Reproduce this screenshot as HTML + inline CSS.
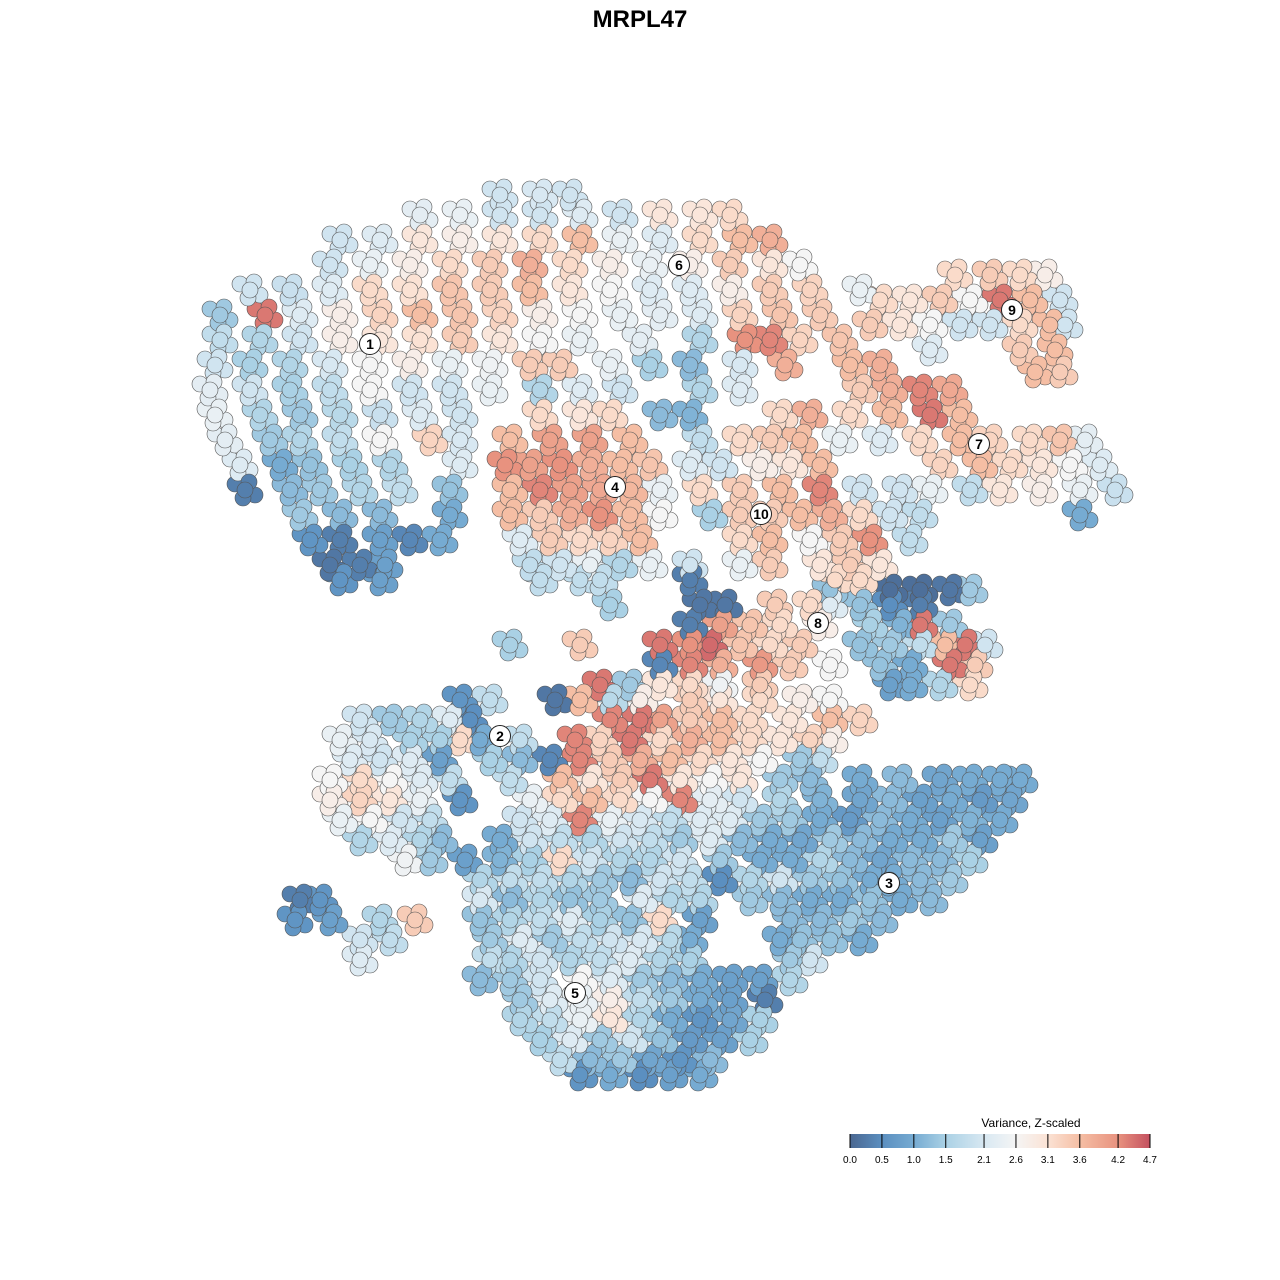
<!DOCTYPE html>
<html><head><meta charset="utf-8"><style>
html,body{margin:0;padding:0;background:#fff;width:1280px;height:1280px;overflow:hidden;font-family:"Liberation Sans",sans-serif}
</style></head><body>
<svg id="chart" width="1280" height="1280" xmlns="http://www.w3.org/2000/svg">
<text x="640" y="27" text-anchor="middle" font-size="24" font-weight="bold" font-family="Liberation Sans, sans-serif">MRPL47</text>
<g id="points"></g>
<g id="labels"></g>
<g id="legend"></g>
</svg>
<script>
const rowData = [
[44.5,"-14:2.0,-10:2.1,-7:2.0"],
[42.5,"-22:2.3,-18:2.4,-14:2.0,-10:2.0,-6:2.2,-2:2.0,2:3.0,6:3.0,9:3.2"],
[40,"-30:2.0,-26:2.2,-22:3.0,-18:2.8,-14:3.0,-10:3.2,-6:3.6,-2:2.4,2:2.2,6:3.2,10:3.6,13:3.8"],
[37.5,"-31:2.0,-27:2.4,-23:2.8,-19:3.2,-15:3.4,-11:3.8,-7:3.2,-3:2.8,1:2.4,5:2.8,9:3.4,13:3.0,16:2.6"],
[36.5,"31.5:3.2,35:3.4,38:3.2,40.5:2.8"],
[35,"-39:2.0,-35:1.9,-31:2.2,-27:3.2,-23:3.1,-19:3.5,-15:3.4,-11:3.6,-7:3.0,-3:2.6,1:2.2,5:2.2,9:2.8,13:3.4,17:3.3,22:2.4"],
[34,"24:3.2,27:3.0,30:3.4,33:2.6,36:4.4,39:3.6,42:2.0"],
[32.5,"-42:1.4,-37.5:4.4,-34:2.2,-30:2.8,-26:3.3,-22:3.6,-18:3.5,-14:3.3,-10:2.8,-6:2.6,-2:2.4,2:2.3,6:2.2,10:3.3,14:3.5,18:3.4"],
[31.5,"23:3.4,26:3.0,29:2.6,32:2.0,35:2.0,38:3.2,41:3.6,42.5:2.0"],
[30,"-42:1.8,-38:1.6,-34:2.0,-30:2.8,-26:3.0,-22:3.1,-18:3.4,-14:3.0,-10:2.6,-6:2.4,0:2.3,6:1.6,10.5:4.2,13:4.3,16:3.3,20:3.5"],
[29,"29:2.2,38:3.4,41.5:3.6"],
[27.5,"-42.5:2.0,-39:1.5,-35:1.6,-31:2.1,-27:2.6,-23:2.8,-19:2.4,-15:2.5,-11:3.4,-8:3.4,-3:2.4,1:1.5,5:1.2,10:2.1,14.5:3.8,21:3.6,24:3.8"],
[26.8,"39.5:3.6,42:3.4"],
[25,"-43:2.3,-39:2.0,-35:1.5,-31:1.8,-27:2.6,-23:2.0,-19:2.0,-15:2.4,-10:1.6,-6:2.2,-2:2.0,6:1.6,10:2.2,22:3.4,25:3.8,28:4.3,31:3.9"],
[22.5,"-42.5:2.4,-38:1.6,-34:1.4,-30:1.7,-26:1.9,-22:2.2,-18:2.0,-10:3.2,-6:3.0,-3:3.2,2:1.2,5:1.1,14:3.2,17:3.8,21:3.2,25:3.6,29:4.4,32:3.6"],
[20,"-41.5:2.3,-37:1.4,-34:1.6,-30:1.8,-26:2.6,-21:3.3,-18:2.1,-13:3.6,-9:4.0,-5:4.0,-1:3.6,6:1.8,10:3.2,13:3.4,16:3.6,20:2.4,24:2.2,28:3.2,32:3.6,35:3.3,39:3.2,42:3.5,44.5:2.3"],
[17.5,"-40:2.2,-36:1.0,-33:1.3,-29:1.5,-25:1.6,-18:2.2,-13.5:4.2,-11:4.0,-8:4.2,-5:3.8,-2:3.6,1:3.5,5:2.2,8:2.0,12:2.8,15:3.0,18:3.6,30:3.3,34:3.6,37:3.2,40:3.0,43:2.6,46:2.2"],
[15,"-39.5:0.3,-35:1.2,-32:1.4,-28:1.6,-24:1.8,-19:1.3,-13:3.6,-10:4.3,-7:4.0,-4:3.9,-1:3.7,2:2.4,6:3.2,10:3.4,14:3.6,18:4.3,22:2.0,26:2.0,29:2.4,33:1.8,36:3.0,40:2.8,44:2.4,47.5:1.9"],
[12.5,"-34:1.4,-30:1.2,-26:1.2,-19:1.0,-13:3.6,-10:3.4,-7:3.8,-4:4.2,-1:3.6,2:2.6,7:1.5,10:3.4,13:3.4,16:3.6,19:3.8,22:3.2,25:2.0,28:1.8,44:1.0"],
[10,"-33:0.6,-30:0.3,-26:0.8,-23:0.4,-20:1.0,-12:2.2,-9:3.4,-6:3.2,-3:3.3,0:3.6,10:3.2,13:3.6,17:2.6,20:3.4,23:4.2,27:1.8"],
[7.5,"-31:0.2,-28:0.3,-25.5:0.8,-11:1.8,-8:2.0,-5:2.4,-2:1.6,1:2.4,5:2.0,10:2.4,13:3.4,18:3.0,21:3.4,24:3.0"],
[6,"-30:0.6,-26:0.8,-10:1.8,-6:1.8,-4:1.8,5:0.3,19.5:3.2,22:3.2"],
[5,"25:0.1,28:0.1,31:0.2,33:1.4,19:1.3"],
[3.5,"6:0.2,8.5:0.2,13.5:3.4,17:3.2,19:2.2,22:1.3,25:0.5,28:0.3,-3:1.5"],
[1.5,"5:0.3,8:4.0,11:3.5,14:3.2,18:2.8,23:1.5,26:1.1,28:4.4,31:1.4"],
[-0.5,"2:4.4,5:4.2,7:4.5,10:3.5,13:3.2,16:3.4,22:1.3,25:1.4,28:1.8,30.5:3.6,32.5:4.4,34.5:2.0,-13:1.5,-6:3.4"],
[-2.5,"2:0.4,5:4.3,8:3.8,12:4.1,15:3.4,19:2.6,24:1.3,27:1.0,31:4.4,33.5:3.4"],
[-4.5,"-4:4.4,-1:1.4,2:3.0,5:3.2,8:2.5,12:3.4,25:0.8,27:1.0,30:1.6,33:3.2"],
[-6,"-18:0.6,-15:1.8,-8.5:0.2,-6:3.6,-3:1.7,0:2.8,5:3.4,8:3.0,12:3.2,16:2.8,19:2.6"],
[-8,"-28:2.0,-25:1.4,-22:1.6,-19:2.2,-17:0.5,-3:4.3,0:4.4,2:4.0,5:3.4,8:3.6,11:3.2,15:3.0,19:3.6,22:3.3"],
[-10,"-30:2.4,-27:2.1,-23:1.5,-20:1.5,-18:3.2,-16:1.0,-12:1.8,-6.5:4.3,-4:3.3,-1:4.4,2:3.2,5:3.8,8:3.6,11:3.2,14:3.0,17:3.3,19:2.8"],
[-12,"-29:2.2,-26:2.0,-23:2.2,-20:0.8,-15:1.5,-12:1.2,-9:0.4,-6:4.3,-3:3.4,0:3.8,3:3.6,6:3.2,9:3.0,12:2.6,16:1.4,18:1.8"],
[-14,"-31:2.6,-28:3.2,-25:2.6,-22:2.2,-19:1.8,-13:1.8,-8:3.6,-5:3.0,-2:3.4,1:4.4,4:3.0,7:2.6,10:3.0,14:1.4,17:1.2,22:1.0,26:1.2,30:0.9,33:1.0,36:1.0,38:1.0"],
[-16,"-31:2.8,-28:3.3,-25:3.0,-22:2.4,-18:0.6,-11:2.4,-8:3.2,-5:3.6,-2:3.2,1:2.6,4:4.3,7:2.3,10:2.0,14:1.6,18:1.1,22:0.9,25:1.2,28:0.8,31:1.0,34:0.7,37:0.9"],
[-18,"-30:2.4,-27:2.6,-24:2.0,-21:1.8,-12:2.0,-9:2.2,-6:4.3,-3:2.4,0:2.1,3:1.8,6:2.2,9:2.2,12:1.4,15:1.4,18:1.0,21:0.7,24:1.2,27:1.0,30:0.8,33:1.1,36:1.0"],
[-20,"-28:1.6,-25:2.2,-22:1.6,-20:1.2,-14:1.0,-11:2.0,-8:1.8,-5:1.6,-2:2.0,1:1.8,4:1.4,7:2.2,10:1.2,13:1.0,16:0.9,19:1.4,22:1.2,25:1.0,28:1.0,31:1.4,34:0.8"],
[-22,"-23.5:2.5,-21:1.4,-17.5:0.8,-14:1.1,-11:1.5,-8:3.2,-5:2.0,-2:1.6,1:1.6,4:2.0,8:1.4,12:1.0,15:1.0,18:1.6,21:1.2,24:0.9,27:1.2,30:1.2,33:1.5"],
[-24,"-16:1.6,-13:1.8,-10:1.8,-7:1.6,-4:1.4,-1:1.2,2:2.0,5:1.8,8:0.5,11:1.6,14:2.0,17:1.4,20:1.3,23:1.0,25:1.0,28:1.2,31:1.4"],
[-26,"-34:0.3,-32:0.6,-16:2.1,-13:1.2,-10:1.6,-7:1.3,-4:1.4,0:2.2,3:1.6,6:1.6,11:1.4,14:1.2,17:1.0,20:1.0,23:1.3,26:1.0,29:1.2"],
[-28,"-34.5:0.6,-31:0.8,-26:1.6,-22.5:3.4,-16:1.3,-13:1.6,-10:1.8,-7:2.2,-4:1.5,-1:1.3,2:3.2,6:0.8,15:1.2,18:1.2,21:1.4,24:1.2"],
[-30,"-28:2.0,-25:1.8,-15:1.4,-12:2.2,-9:1.4,-6:1.8,-3:2.0,0:2.1,3:1.7,5:1.0,14:1.0,16:1.3,19:1.3,22:1.0"],
[-32,"-28:2.2,-15:1.8,-13:1.6,-10:2.0,-7:1.6,-4:1.8,-1:2.2,2:1.6,5:1.5,15:1.4,17:2.0"],
[-34,"-16:1.2,-13:1.4,-10:2.0,-6:2.6,-3:2.2,0:1.4,3:1.2,6:1.0,9:0.8,12:0.8,15:1.6"],
[-36,"-12:1.4,-9:2.2,-6:2.4,-3:2.8,0:1.8,3:1.4,6:1.0,9:0.8,12.5:0.3"],
[-38,"-12:1.6,-9:1.8,-6:2.4,-3:3.0,0:1.6,3:1.0,6:0.6,9:0.9,12:1.5"],
[-40,"-10:1.5,-7:2.2,-4:1.4,-1:2.0,2:1.3,5:0.7,8:0.8,11:1.5"],
[-42,"-8:1.8,-5:1.2,-2:1.4,1:0.9,4:0.6,7:1.2"],
[-43.5,"-6:0.6,-3:1.0,0:0.5,3:0.8,6:1.0"]
];
const tsne1 = [], tsne2 = [], expr = [];
rowData.forEach(r => r[1].split(",").forEach(p => { const q = p.split(":"); tsne1.push(+q[0]); tsne2.push(r[0]); expr.push(+q[1]); }));
const clusterIds = ["1","6","9","7","4","10","8","2","3","5"];
const clusterT1 = [-27,3.9,37.2,33.9,-2.5,12.1,17.8,-14,24.9,-6.5];
const clusterT2 = [29.6,37.5,33,19.6,15.3,12.6,1.7,-9.6,-24.3,-35.3];
const legendTicks = [0.0,0.5,1.0,1.5,2.1,2.6,3.1,3.6,4.2,4.7];
const colorStops = [0,0.5,1.0,1.5,2.1,2.6,3.1,3.6,4.2,4.7];
const colorHex = ["#4a6791","#5b8fc0","#76abd2","#aad1e5","#d8e8f2","#f5f5f5","#fbe2d4","#f5bea4","#e8927f","#c4505f"];

function xScale(t){ return 640 + t*10; }
function yScale(t){ return 640 - t*10; }
function lScale(v){ return 850 + (v/4.7)*300; }
function hex2rgb(h){ return [1,3,5].map(i=>parseInt(h.substr(i,2),16)); }
function colorOf(v){
  for(let i=0;i<colorStops.length-1;i++){
    if(v<=colorStops[i+1]){
      const f=(v-colorStops[i])/(colorStops[i+1]-colorStops[i]);
      const a=hex2rgb(colorHex[i]), b=hex2rgb(colorHex[i+1]);
      return "rgb("+a.map((c,k)=>Math.round(c+(b[k]-c)*f)).join(",")+")";
    }
  }
  return colorHex[colorHex.length-1];
}
const NS="http://www.w3.org/2000/svg";
const gp=document.getElementById("points");
const offs=[[-10,-6],[10,5],[-2,8],[4,-8],[0,0]];
const order=expr.map((v,i)=>i).sort((a,b)=>expr[a]-expr[b]);
offs.forEach((o,k)=>{
 order.forEach(i=>{
  const c=document.createElementNS(NS,"circle");
  c.setAttribute("cx",xScale(tsne1[i])+o[0]);
  c.setAttribute("cy",yScale(tsne2[i])+o[1]);
  c.setAttribute("r",8);
  c.setAttribute("fill",colorOf(expr[i]));
  c.setAttribute("stroke","#555");
  c.setAttribute("stroke-width","0.6");
  
  
  gp.appendChild(c);
 });
});
const gl=document.getElementById("labels");
clusterIds.forEach((id,i)=>{
  const g=document.createElementNS(NS,"g");
  
  
  const c=document.createElementNS(NS,"circle");
  c.setAttribute("cx",xScale(clusterT1[i]));c.setAttribute("cy",yScale(clusterT2[i]));
  c.setAttribute("r",10.5);c.setAttribute("fill","#fff");c.setAttribute("stroke","#222");c.setAttribute("stroke-width","1");
  const t=document.createElementNS(NS,"text");
  t.setAttribute("x",xScale(clusterT1[i]));t.setAttribute("y",yScale(clusterT2[i])+5);
  t.setAttribute("text-anchor","middle");t.setAttribute("font-size","14");t.setAttribute("font-weight","bold");
  t.textContent=id;
  g.appendChild(c);g.appendChild(t);gl.appendChild(g);
});
const lg=document.getElementById("legend");
const defs=document.createElementNS(NS,"defs");
const grad=document.createElementNS(NS,"linearGradient");
grad.setAttribute("id","lgrad");
colorStops.forEach((s,i)=>{const st=document.createElementNS(NS,"stop");st.setAttribute("offset",(s/4.7*100)+"%");st.setAttribute("stop-color",colorHex[i]);grad.appendChild(st);});
defs.appendChild(grad);lg.appendChild(defs);
const lt=document.createElementNS(NS,"text");
lt.setAttribute("x",1031);lt.setAttribute("y",1127);lt.setAttribute("text-anchor","middle");lt.setAttribute("font-size","12");
lt.textContent="Variance, Z-scaled";


lg.appendChild(lt);
const bar=document.createElementNS(NS,"rect");
bar.setAttribute("x",850);bar.setAttribute("y",1134);bar.setAttribute("width",300);bar.setAttribute("height",14);bar.setAttribute("fill","url(#lgrad)");


lg.appendChild(bar);
legendTicks.forEach(v=>{
  const l=document.createElementNS(NS,"line");
  l.setAttribute("x1",lScale(v));l.setAttribute("x2",lScale(v));l.setAttribute("y1",1134);l.setAttribute("y2",1148);
  l.setAttribute("stroke","#000");l.setAttribute("stroke-width","1");
  
  
  lg.appendChild(l);
  const t=document.createElementNS(NS,"text");
  t.setAttribute("x",lScale(v));t.setAttribute("y",1163);t.setAttribute("text-anchor","middle");t.setAttribute("font-size","10");
  t.textContent=v.toFixed(1);
  
  
  lg.appendChild(t);
});
</script>
</body></html>
